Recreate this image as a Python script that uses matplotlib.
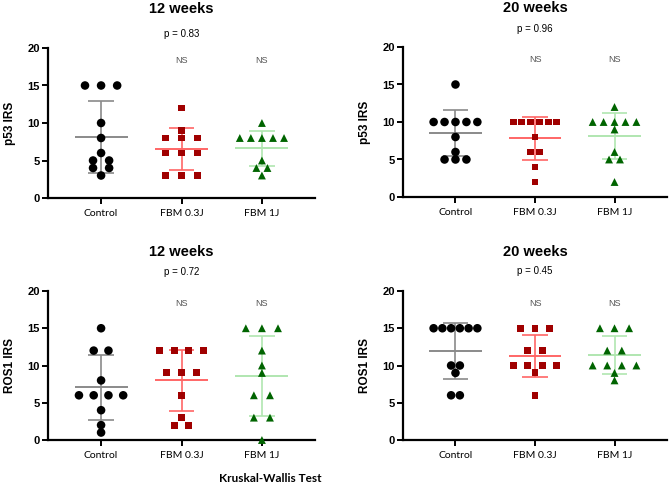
import numpy as np
import matplotlib.pyplot as plt

groups = ['Control', 'FBM 0.3J', 'FBM 1J']

# p53 IRS
p53_12w_control = [15, 15, 15, 10, 8, 6, 5, 5, 4, 4, 3]
p53_12w_fbm03 = [12, 9, 8, 8, 8, 6, 6, 6, 3, 3, 3]
p53_12w_fbm1 = [10, 8, 8, 8, 8, 8, 5, 4, 4, 3]
p53_20w_control = [15, 10, 10, 10, 10, 10, 8, 6, 5, 5, 5]
p53_20w_fbm03 = [10, 10, 10, 10, 10, 10, 8, 6, 6, 4, 2]
p53_20w_fbm1 = [12, 10, 10, 10, 10, 10, 9, 6, 5, 5, 2]

# ROS1 IRS
ros1_12w_control = [15, 12, 12, 8, 6, 6, 6, 6, 4, 2, 1]
ros1_12w_fbm03 = [12, 12, 12, 12, 9, 9, 9, 6, 3, 2, 2]
ros1_12w_fbm1 = [15, 15, 15, 12, 10, 9, 6, 6, 3, 3, 0]
ros1_20w_control = [15, 15, 15, 15, 15, 15, 10, 10, 9, 6, 6]
ros1_20w_fbm03 = [15, 15, 15, 12, 12, 10, 10, 10, 10, 9, 6]
ros1_20w_fbm1 = [15, 15, 15, 12, 12, 10, 10, 10, 10, 9, 8]

titles = ['12 weeks', '20 weeks', '12 weeks', '20 weeks']
p_values = ['p = 0.83', 'p = 0.96', 'p = 0.72', 'p = 0.45']
ylabels = ['p53 IRS', 'p53 IRS', 'ROS1 IRS', 'ROS1 IRS']
sig_labels = ['', 'NS', 'NS']

panels = [
    [p53_12w_control, p53_12w_fbm03, p53_12w_fbm1],
    [p53_20w_control, p53_20w_fbm03, p53_20w_fbm1],
    [ros1_12w_control, ros1_12w_fbm03, ros1_12w_fbm1],
    [ros1_20w_control, ros1_20w_fbm03, ros1_20w_fbm1],
]

point_colors = ['#000000', '#a00000', '#006400']
line_colors = ['#8a8a8a', '#ff6666', '#b0e6b0']
markers = ['o', 's', '^']
msizes = [38, 25, 32]


def row_offsets(vals, step):
    # spread equal values side by side, like a scatter dot plot
    vals = np.asarray(vals, float)
    xs = np.zeros(len(vals))
    for v in np.unique(vals):
        idx = np.where(vals == v)[0]
        n = len(idx)
        xs[idx] = (np.arange(n) - (n - 1) / 2) * step
    return xs


fig = plt.figure(figsize=(6.69, 4.86), dpi=100)
W, H = 669, 486
# axes boxes in pixels: left, right, top(y=20), bottom(y=0)
boxes = [(48, 315, 48, 198), (403, 667, 47, 197),
         (48, 315, 291, 440), (403, 667, 291, 440)]
p_offsets = [14, 18, 19, 20]

for k, (data, box) in enumerate(zip(panels, boxes)):
    l, r, t, b = box
    ax = fig.add_axes([l / W, 1 - b / H, (r - l) / W, (b - t) / H])
    for i, vals in enumerate(data):
        vals = np.asarray(vals, float)
        counts = np.unique(vals, return_counts=True)[1].max()
        step = min(16, 44 / max(counts - 1, 1)) / 80
        xs = i + row_offsets(vals, step)
        m = vals.mean()
        sd = vals.std(ddof=1)
        lc = line_colors[i]
        ax.hlines(m, i - 0.33, i + 0.33, color=lc, lw=1.4, zorder=2)
        ax.vlines(i, m - sd, m + sd, color=lc, lw=1.2, zorder=2)
        ax.hlines([m - sd, m + sd], i - 0.16, i + 0.16, color=lc, lw=1.2, zorder=2)
        ax.scatter(xs, vals, marker=markers[i], s=msizes[i], color=point_colors[i],
                   edgecolors='none', zorder=4, clip_on=False)
        if sig_labels[i]:
            ax.text(i, 18.3, sig_labels[i], ha='center', va='center',
                    fontsize=6.5, color='#555555', family='Liberation Sans')

    ax.set_xlim(-0.66, 2.66)
    ax.set_ylim(0, 20)
    ax.set_yticks([0, 5, 10, 15, 20])
    ax.set_xticks([0, 1, 2])
    ax.set_xticklabels(groups, fontsize=7.5, family='Lato')
    for lab in ax.get_yticklabels():
        lab.set_fontweight('bold')
        lab.set_fontsize(8)
        lab.set_family('Liberation Sans')
    ax.spines['top'].set_visible(False)
    ax.spines['right'].set_visible(False)
    ax.spines['left'].set_linewidth(1.6)
    ax.spines['bottom'].set_linewidth(1.6)
    ax.tick_params(axis='both', length=4, width=1.4, pad=2)
    ax.tick_params(axis='x', pad=4)
    ax.set_ylabel(ylabels[k], fontsize=8.5, fontweight='bold', family='Liberation Sans')
    ax.yaxis.set_label_coords(-0.12, 0.5)

    ax_h = b - t
    ax.text(1, 1 + 39 / ax_h, titles[k], transform=ax.get_xaxis_transform(),
            ha='center', va='center', fontsize=10.5, fontweight='bold',
            family='Liberation Sans')
    ax.text(1, 1 + p_offsets[k] / ax_h, p_values[k], transform=ax.get_xaxis_transform(),
            ha='center', va='center', fontsize=7, family='Liberation Sans')

fig.text(270 / W, 1 - 478 / H, 'Kruskal-Wallis Test', ha='center', va='center',
         fontsize=8.5, fontweight='bold', family='Lato')

plt.savefig('out.png', dpi=100)
